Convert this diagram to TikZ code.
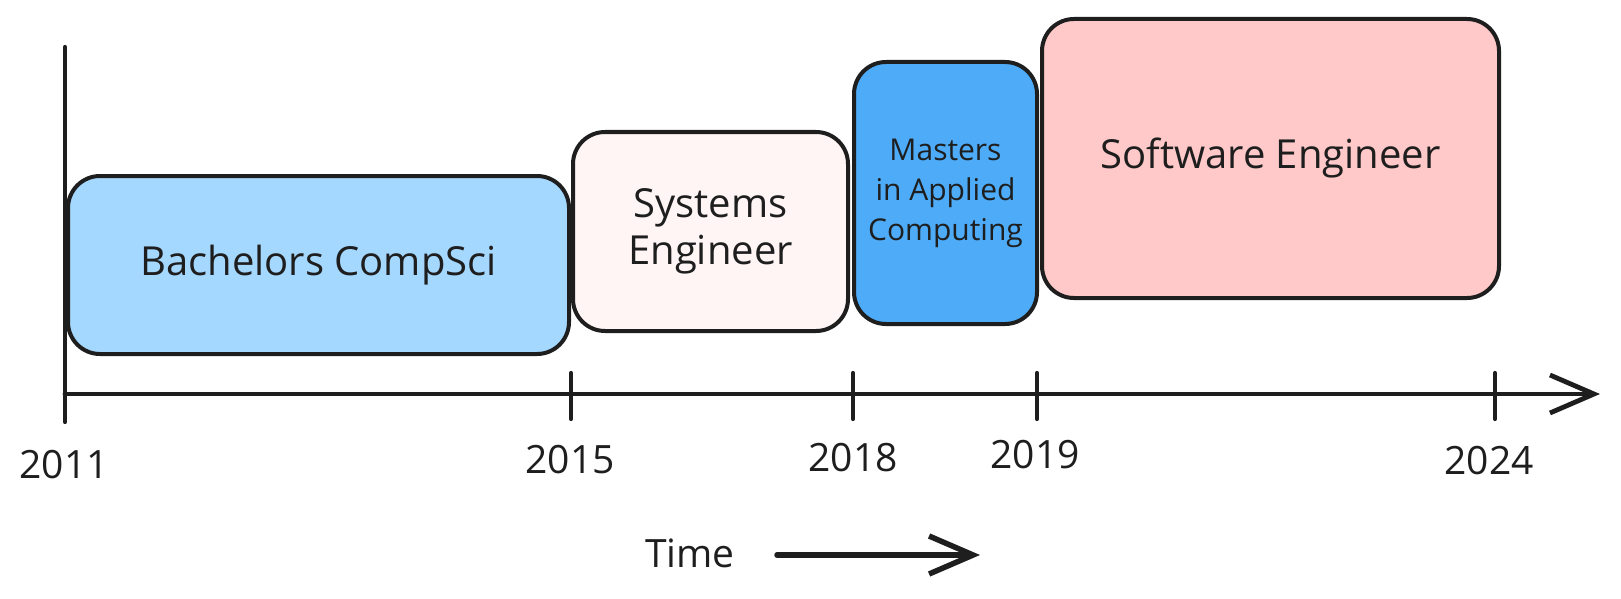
\documentclass[tikz,border=0pt]{standalone}
\usepackage{fontspec}
\setmainfont{Open Sans}
\usetikzlibrary{arrows.meta}
\definecolor{ink}{HTML}{1E1E1E}
\definecolor{bscblue}{HTML}{A5D8FF}
\definecolor{sysrose}{HTML}{FFF5F5}
\definecolor{mscblue}{HTML}{4DABF7}
\definecolor{swepink}{HTML}{FFC9C9}

\begin{document}
\begin{tikzpicture}[x=1pt,y=-1pt,>={Straight Barb[length=44pt,width=38pt]},
                    line width=4.2pt,draw=ink,text=ink,line cap=round,
                    job node/.style={draw=ink,rounded corners=32pt,line width=4pt,inner sep=0pt,
                                     align=center,font=\fontsize{40}{47}\selectfont},
                    year node/.style={font=\fontsize{39}{42}\selectfont}]
  \useasboundingbox (0,0) rectangle (1621,599);
  % jobs and studies
  \node[job node,fill=bscblue,minimum width=501pt,minimum height=178pt] (bsc) at (318.5,265) {Bachelors CompSci};
  \node[job node,fill=sysrose,minimum width=275pt,minimum height=199pt] (sys) at (710.5,231.5) {Systems\\Engineer};
  \node[job node,fill=mscblue,minimum width=183pt,minimum height=262pt,
        font=\fontsize{30}{40}\selectfont] (msc) at (945.5,193) {Masters\\in Applied\\Computing};
  \node[job node,fill=swepink,minimum width=457pt,minimum height=279pt] (swe) at (1270.5,158.5) {Software Engineer};
  % axes
  \coordinate (top) at (65,47);
  \coordinate (bottom) at (65,422);
  \coordinate (origin) at (65,394);
  \coordinate (axisend) at (1600,394);
  \draw (top) -- (bottom);
  \draw[->,line width=4.8pt] (origin) -- (axisend);
  \foreach \x in {571,853,1037,1495}
    \draw (\x,373) -- (\x,419);
  \foreach \yr/\x/\y in {2011/64/465,2015/570/460,2018/853/458,2019/1035/455,2024/1489/461}
    \node[year node] (y\yr) at (\x,\y) {\yr};
  % time legend
  \node[year node] (time) at (690,553) {Time};
  \coordinate (timestart) at (777,555);
  \coordinate (timeend) at (980,555);
  \draw[->,line width=5.5pt] (timestart) -- (timeend);
\end{tikzpicture}
\end{document}
